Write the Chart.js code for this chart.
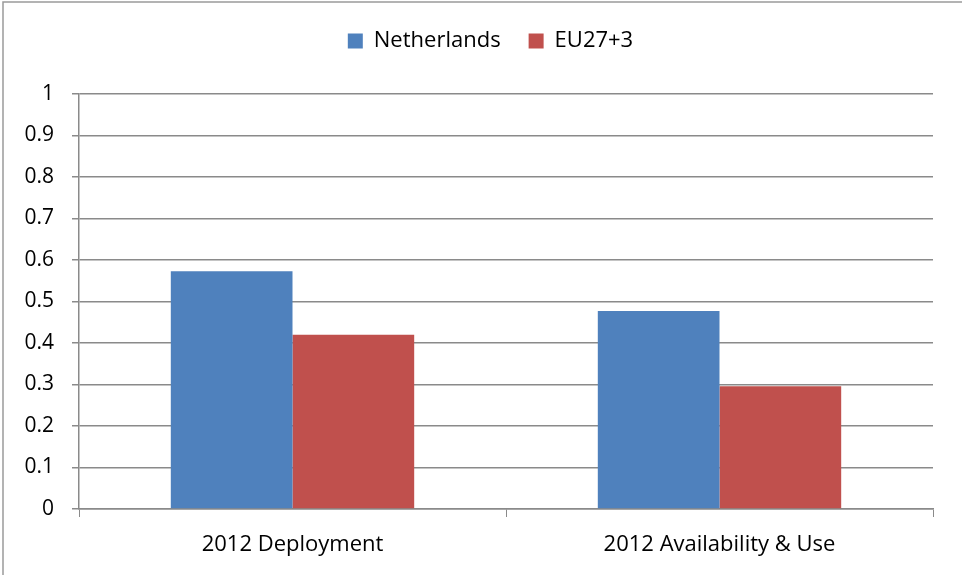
<!DOCTYPE html>
<html>
<head>
<meta charset="utf-8">
<script src="https://cdn.jsdelivr.net/npm/chart.js@4.4.0/dist/chart.umd.min.js"></script>
<style>
  html, body { margin: 0; padding: 0; background: #fff; }
  #wrap { width: 962px; height: 575px; position: relative; }
</style>
</head>
<body>
<div id="wrap"><canvas id="chart1" width="962" height="575"></canvas></div>
<script>
var categories = ['2012 Deployment', '2012 Availability & Use'];
var netherlands = [0.573, 0.477];
var eu27 = [0.42, 0.296];
var yTicks = [0, 0.1, 0.2, 0.3, 0.4, 0.5, 0.6, 0.7, 0.8, 0.9, 1];

var gridColor = '#8a8a8a';
var fontFamily = "'Open Sans', 'Liberation Sans', sans-serif";

// keep legend block a fixed height so the plot starts where the original does
var fixLegend = {
    id: 'fixLegend',
    beforeLayout: function(chart){
        var lg = chart.legend;
        if(lg && !lg._patched){
            var orig = lg.fit;
            lg.fit = function(){
                orig.call(this);
                this.height = 92;
            };
            lg._patched = true;
        }
    },
    afterLayout: function(chart){
        // original legend sits a bit right of the plot centre
        chart.legend.left += 48;
    }
};

// grey frame on the left and top edge
var frame = {
    id: 'frame',
    afterDraw: function(chart){
        var ctx = chart.ctx;
        ctx.save();
        ctx.strokeStyle = '#9a9a9a';
        ctx.lineWidth = 1.5;
        ctx.beginPath();
        ctx.moveTo(3, 575);
        ctx.lineTo(3, 2);
        ctx.lineTo(962, 2);
        ctx.stroke();
        ctx.restore();
    }
};

var ctx = document.getElementById('chart1').getContext('2d');
var myChart = new Chart(ctx, {
    type: 'bar',
    data: {
        labels: categories,
        datasets: [{
            label: 'Netherlands',
            data: netherlands,
            backgroundColor: '#4f81bd',
            borderWidth: 0
        }, {
            label: 'EU27+3',
            data: eu27,
            backgroundColor: '#c0504d',
            borderWidth: 0
        }]
    },
    options: {
        responsive: false,
        animation: false,
        layout: { padding: { top: 2, left: 0, right: 29, bottom: 0 } },
        datasets: { bar: { categoryPercentage: 0.57, barPercentage: 1.0 } },
        plugins: {
            legend: {
                position: 'top',
                labels: {
                    boxWidth: 15,
                    boxHeight: 15,
                    padding: 28,
                    color: '#000',
                    font: { family: fontFamily, size: 22 }
                }
            },
            tooltip: { enabled: false }
        },
        scales: {
            x: {
                grid: {
                    offset: true,
                    drawOnChartArea: false,
                    drawTicks: true,
                    tickLength: 8,
                    color: gridColor
                },
                border: { color: gridColor, width: 1.5 },
                ticks: {
                    color: '#000',
                    padding: 15,
                    font: { family: fontFamily, size: 22 }
                },
                afterFit: function(axis){ axis.height = 575 - 509; }
            },
            y: {
                min: 0,
                max: 1,
                afterBuildTicks: function(axis){
                    axis.ticks = yTicks.map(function(v){ return { value: v }; });
                },
                grid: {
                    color: gridColor,
                    lineWidth: 1.5,
                    tickLength: 7
                },
                border: { color: gridColor, width: 1.5 },
                ticks: {
                    color: '#000',
                    padding: 18,
                    font: { family: fontFamily, size: 21 },
                    callback: function(v){ return String(Math.round(v * 10) / 10); }
                },
                afterFit: function(axis){ axis.width = 79; }
            }
        }
    },
    plugins: [fixLegend, frame]
});
</script>
</body>
</html>
